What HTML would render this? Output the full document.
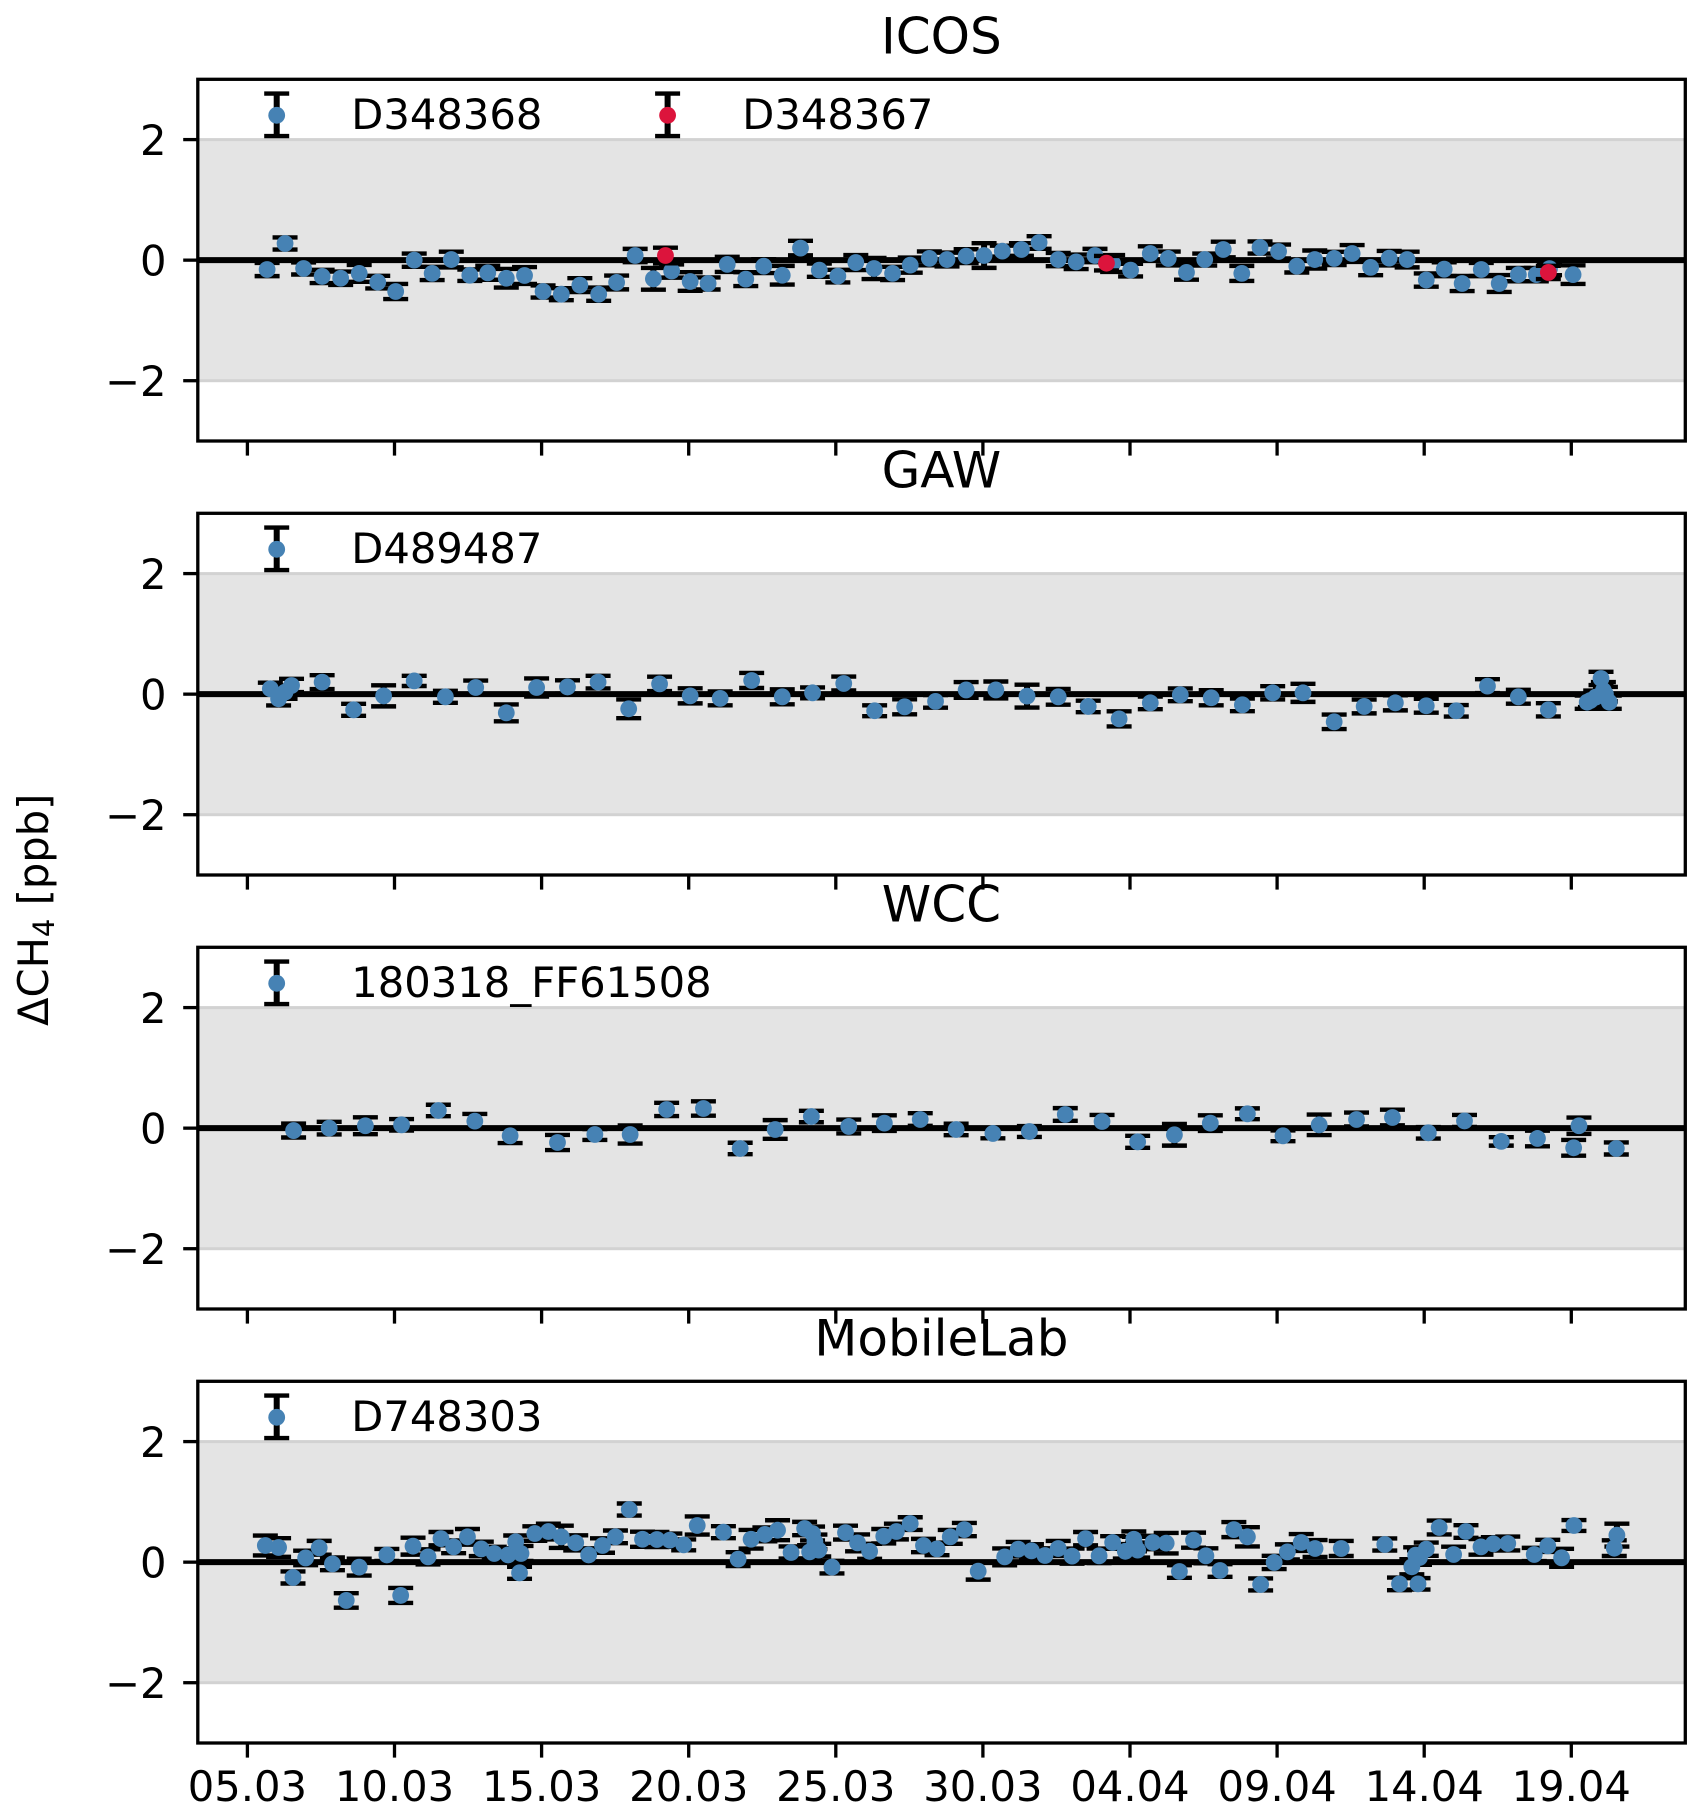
<!DOCTYPE html>
<html lang="en">
<head>
<meta charset="utf-8">
<title>Delta CH4 comparison</title>
<style>
html,body{margin:0;padding:0;background:#fff;}
svg{display:block;font-family:"DejaVu Sans","Liberation Sans",sans-serif;fill:#000;}
.tick-text{font-size:41.67px;}
.title-text{font-size:50px;text-anchor:middle;}
</style>
</head>
<body>
<svg id="chart" xmlns="http://www.w3.org/2000/svg" width="1705" height="1820" viewBox="0 0 1705 1820">
<rect x="0" y="0" width="1705" height="1820" fill="#ffffff"/>
<g id="plots"></g>
<text class="title-text" x="941.4" y="53.5">ICOS</text>
<text class="title-text" x="941.4" y="487.5">GAW</text>
<text class="title-text" x="941.4" y="921.5">WCC</text>
<text class="title-text" x="941.4" y="1355.5">MobileLab</text>
<text class="tick-text" transform="translate(48,1026) rotate(-90)">ΔCH<tspan font-size="29" dy="6">4</tspan><tspan dy="-6"> [ppb]</tspan></text>
<text class="tick-text" x="351.3" y="129">D348368</text>
<text class="tick-text" x="742.3" y="129">D348367</text>
<text class="tick-text" x="351.3" y="563">D489487</text>
<text class="tick-text" x="351.3" y="997">180318_FF61508</text>
<text class="tick-text" x="351.3" y="1431">D748303</text>
</svg>
<script>
/* Data: days since 05.03, offset in ppb, error in ppb */
const xTickDays = [0, 5, 10, 15, 20, 25, 30, 35, 40, 45];
const xTickLabels = ["05.03", "10.03", "15.03", "20.03", "25.03", "30.03", "04.04", "09.04", "14.04", "19.04"];
const yTickValues = [2, 0, -2];
const yTickLabels = ["2", "0", "\u22122"];
const toleranceBand = [-2, 2];

const icosDays = [0.67,1.28,1.91,2.54,3.17,3.80,4.43,5.04,5.67,6.28,6.93,7.56,8.17,8.80,9.42,10.05,10.67,11.30,11.94,12.55,13.18,13.80,14.42,15.05,15.66,16.31,16.94,17.55,18.18,18.80,19.44,20.07,20.68,21.30,21.93,22.53,23.18,23.78,24.43,25.04,25.66,26.31,26.91,27.56,28.17,28.81,29.41,30.02,30.69,31.30,31.92,32.54,33.17,33.80,34.42,35.05,35.67,36.28,36.94,37.55,38.18,38.81,39.42,40.07,40.68,41.29,41.94,42.55,43.20,43.81,44.26,45.06];
const icosValues = [-0.155,0.276,-0.138,-0.27,-0.30,-0.22,-0.365,-0.52,0,-0.22,0.01,-0.25,-0.21,-0.30,-0.255,-0.52,-0.565,-0.415,-0.565,-0.37,0.077,-0.31,-0.18,-0.354,-0.387,-0.07,-0.315,-0.10,-0.25,0.2,-0.166,-0.265,-0.04,-0.138,-0.22,-0.083,0.03,0.01,0.066,0.077,0.15,0.177,0.293,0.01,-0.028,0.077,-0.055,-0.166,0.11,0.028,-0.204,0.01,0.177,-0.22,0.21,0.144,-0.10,0.01,0.028,0.11,-0.12,0.033,0.01,-0.33,-0.15,-0.387,-0.155,-0.387,-0.24,-0.24,-0.14,-0.24];
const icosErrors = [0.11,0.10,0.10,0.11,0.11,0.14,0.105,0.125,0.11,0.11,0.13,0.095,0.115,0.155,0.14,0.10,0.10,0.115,0.11,0.115,0.11,0.18,0.11,0.155,0.10,0.125,0.115,0.115,0.155,0.12,0.11,0.105,0.125,0.175,0.11,0.125,0.115,0.115,0.115,0.205,0.09,0.105,0.105,0.11,0.12,0.11,0.14,0.105,0.12,0.115,0.12,0.10,0.13,0.125,0.10,0.115,0.105,0.15,0.11,0.14,0.13,0.12,0.13,0.11,0.115,0.125,0.11,0.14,0.11,0.11,0.11,0.155];
const icosRedDays = [14.21,29.20,44.22];
const icosRedValues = [0.077,-0.05,-0.204];
const icosRedErrors = [0.13,0.12,0.11];

const gawDays = [0.78,1.06,1.28,1.50,2.54,3.61,4.63,5.67,6.73,7.76,8.80,9.83,10.88,11.92,12.96,14.01,15.05,16.07,17.14,18.18,19.21,20.27,21.32,22.34,23.39,24.43,25.44,26.50,27.56,28.58,29.63,30.69,31.71,32.76,33.82,34.85,35.88,36.94,37.96,39.02,40.07,41.09,42.15,43.20,44.22,45.54,45.65,45.83,46.01,46.09,46.16,46.29];
const gawValues = [0.09,-0.077,0.033,0.144,0.2,-0.26,-0.028,0.22,-0.044,0.11,-0.31,0.11,0.12,0.2,-0.243,0.17,-0.028,-0.07,0.227,-0.044,0.022,0.177,-0.276,-0.21,-0.12,0.07,0.07,-0.033,-0.044,-0.204,-0.41,-0.144,-0.011,-0.06,-0.177,0.022,0.022,-0.459,-0.204,-0.144,-0.193,-0.276,0.133,-0.044,-0.26,-0.133,-0.105,-0.05,0.26,0.06,0,-0.133];
const gawErrors = [0.10,0.11,0.11,0.11,0.115,0.10,0.175,0.085,0.10,0.115,0.14,0.15,0.11,0.105,0.155,0.12,0.125,0.115,0.125,0.125,0.09,0.115,0.09,0.125,0.105,0.13,0.14,0.19,0.13,0.095,0.125,0.105,0.105,0.125,0.105,0.11,0.15,0.12,0.115,0.125,0.115,0.095,0.115,0.115,0.11,0.11,0.11,0.11,0.11,0.14,0.12,0.11];

const wccDays = [1.57,2.78,4.01,5.24,6.49,7.73,8.93,10.54,11.81,13.01,14.25,15.50,16.75,17.94,19.17,20.44,21.65,22.87,24.09,25.34,26.58,27.80,29.05,30.26,31.51,32.73,33.99,35.20,36.43,37.70,38.92,40.14,41.37,42.62,43.85,45.26,45.08,46.53];
const wccValues = [-0.04,0,0.04,0.055,0.293,0.116,-0.127,-0.238,-0.105,-0.105,0.31,0.326,-0.337,-0.022,0.193,0.028,0.083,0.144,-0.022,-0.088,-0.055,0.227,0.11,-0.227,-0.11,0.083,0.238,-0.127,0.055,0.144,0.177,-0.077,0.12,-0.22,-0.171,0.04,-0.326,-0.337];
const wccErrors = [0.115,0.105,0.14,0.095,0.095,0.12,0.12,0.125,0.09,0.15,0.11,0.12,0.095,0.155,0.095,0.115,0.13,0.105,0.095,0.08,0.09,0.105,0.11,0.10,0.18,0.13,0.09,0.09,0.17,0.115,0.13,0.095,0.10,0.07,0.13,0.135,0.13,0.10];

const mobileDays = [0.61,1.06,1.55,1.98,2.44,2.89,3.36,3.80,4.74,5.21,5.63,6.14,6.58,7.01,7.48,7.95,8.39,8.86,9.12,9.30,9.25,9.77,10.23,10.67,11.16,11.60,12.07,12.51,12.98,13.43,13.92,14.36,14.83,15.29,16.18,16.68,17.12,17.59,18.02,18.48,18.94,19.21,19.29,19.11,19.42,19.87,20.33,20.74,21.15,21.63,22.06,22.53,22.98,23.44,23.89,24.37,24.84,25.74,26.20,26.65,27.11,27.56,28.03,28.49,28.95,29.41,29.84,30.13,30.26,30.15,30.78,31.23,31.68,32.16,32.58,33.06,33.53,33.99,34.44,34.90,35.35,35.82,36.29,37.18,38.66,39.16,39.79,39.58,39.71,39.84,40.07,40.51,41.0,41.42,41.93,42.35,42.84,43.74,44.20,44.67,45.09,46.55,46.46];
const mobileValues = [0.276,0.243,-0.254,0.07,0.238,-0.028,-0.635,-0.083,0.12,-0.552,0.265,0.088,0.39,0.254,0.42,0.22,0.144,0.12,0.337,0.144,-0.177,0.475,0.508,0.42,0.32,0.12,0.276,0.42,0.873,0.38,0.376,0.365,0.287,0.608,0.497,0.05,0.38,0.46,0.53,0.16,0.558,0.475,0.337,0.171,0.2,-0.083,0.49,0.32,0.18,0.43,0.508,0.64,0.276,0.22,0.42,0.54,-0.15,0.088,0.215,0.188,0.11,0.227,0.1,0.39,0.105,0.326,0.18,0.38,0.2,0.3,0.326,0.315,-0.155,0.365,0.105,-0.138,0.54,0.42,-0.37,-0.005,0.17,0.326,0.227,0.227,0.293,-0.36,-0.36,-0.077,0.116,0.077,0.215,0.575,0.127,0.508,0.254,0.304,0.31,0.127,0.27,0.072,0.608,0.448,0.232];
const mobileErrors = [0.165,0.155,0.10,0.12,0.115,0.105,0.12,0.14,0.10,0.125,0.14,0.125,0.11,0.105,0.13,0.12,0.11,0.11,0.105,0.125,0.10,0.12,0.13,0.185,0.125,0.11,0.12,0.105,0.10,0.125,0.125,0.11,0.09,0.15,0.10,0.115,0.155,0.115,0.165,0.10,0.11,0.115,0.12,0.11,0.105,0.105,0.115,0.14,0.125,0.12,0.13,0.105,0.11,0.105,0.115,0.11,0.14,0.14,0.12,0.11,0.12,0.125,0.125,0.11,0.12,0.105,0.12,0.13,0.125,0.12,0.11,0.17,0.105,0.125,0.125,0.105,0.125,0.16,0.10,0.11,0.125,0.14,0.14,0.125,0.10,0.105,0.095,0.125,0.13,0.12,0.11,0.115,0.13,0.105,0.13,0.11,0.115,0.11,0.10,0.15,0.09,0.19,0.13];

const STEEL = "#4682b4";
const CRIMSON = "#dc143c";
const SVG_NS = "http://www.w3.org/2000/svg";
const plotsGroup = document.getElementById("plots");

const AXIS_LEFT = 197.8, AXIS_RIGHT = 1685.3, AXIS_HEIGHT = 361.7;
const X_ORIGIN = 247.4, X_PER_DAY = 29.42, Y_PER_UNIT = 60.28;

function xScale(day) { return X_ORIGIN + X_PER_DAY * day; }
function yScale(top, value) { return top + AXIS_HEIGHT / 2 - Y_PER_UNIT * value; }

function shape(parent, tag, props) {
  const node = document.createElementNS(SVG_NS, tag);
  for (const key in props) node.setAttribute(key, props[key]);
  parent.appendChild(node);
  return node;
}

function drawBar(group, x, yTop, yBottom, capWidth) {
  shape(group, "line", {x1: x, x2: x, y1: yTop, y2: yBottom, stroke: "#000", "stroke-width": 6});
  shape(group, "line", {x1: x - capWidth / 2, x2: x + capWidth / 2, y1: yTop, y2: yTop, stroke: "#000", "stroke-width": 4.4});
  shape(group, "line", {x1: x - capWidth / 2, x2: x + capWidth / 2, y1: yBottom, y2: yBottom, stroke: "#000", "stroke-width": 4.4});
}

function drawSeries(parent, top, prefix, days, values, errors, color) {
  const bars = shape(parent, "g", {});
  
  
  for (let i = 0; i < days.length; i++) {
    const cap = shape(bars, "g", {});
    
    
    drawBar(cap, xScale(days[i]), yScale(top, values[i] + errors[i]), yScale(top, values[i] - errors[i]), 25);
  }
  const dots = shape(parent, "g", {});
  
  
  for (let i = 0; i < days.length; i++) {
    const dot = shape(dots, "circle", {cx: xScale(days[i]), cy: yScale(top, values[i]), r: 8.4, fill: color});
    
    
  }
}

function drawLegendMarker(parent, top, x, prefix, color) {
  const group = shape(parent, "g", {});
  
  
  drawBar(group, x, top + 14.3, top + 56.8, 25);
  shape(group, "circle", {cx: x, cy: top + 36, r: 8.4, fill: color});
}

function drawPanel(index, top, name, seriesList, showLabels) {
  const panel = shape(plotsGroup, "g", {});
  
  

  const clipId = "clip-" + name;
  const defs = shape(panel, "defs", {});
  const clip = shape(defs, "clipPath", {id: clipId});
  shape(clip, "rect", {x: AXIS_LEFT, y: top, width: AXIS_RIGHT - AXIS_LEFT, height: AXIS_HEIGHT});

  const bandTop = yScale(top, toleranceBand[1]);
  const bandBottom = yScale(top, toleranceBand[0]);
  const band = shape(panel, "rect", {x: AXIS_LEFT - 4, y: bandTop, width: AXIS_RIGHT - AXIS_LEFT + 8, height: bandBottom - bandTop, fill: "#e4e4e4", stroke: "#d2d2d2", "stroke-width": 3, "clip-path": "url(#" + clipId + ")"});
  
  

  const zero = shape(panel, "line", {x1: AXIS_LEFT, x2: AXIS_RIGHT, y1: yScale(top, 0), y2: yScale(top, 0), stroke: "#000", "stroke-width": 6});
  
  

  seriesList.forEach(function (s) {
    drawSeries(panel, top, name + "-" + s.id, s.days, s.values, s.errors, s.color);
    drawLegendMarker(panel, top, s.legendX, name + "-" + s.id, s.color);
  });

  const frame = shape(panel, "rect", {x: AXIS_LEFT, y: top, width: AXIS_RIGHT - AXIS_LEFT, height: AXIS_HEIGHT, fill: "none", stroke: "#000", "stroke-width": 3.3});
  
  

  yTickValues.forEach(function (v, i) {
    const y = yScale(top, v);
    const tick = shape(panel, "line", {x1: AXIS_LEFT - 14.6, x2: AXIS_LEFT, y1: y, y2: y, stroke: "#000", "stroke-width": 3.3});
    
    
    const label = shape(panel, "text", {x: 166.5, y: y + 15.2, "text-anchor": "end", class: "tick-text"});
    
    
    label.textContent = yTickLabels[i];
  });

  xTickDays.forEach(function (d, i) {
    const x = xScale(d);
    const tick = shape(panel, "line", {x1: x, x2: x, y1: top + AXIS_HEIGHT, y2: top + AXIS_HEIGHT + 14.6, stroke: "#000", "stroke-width": 3.3});
    
    
    if (showLabels) {
      const label = shape(panel, "text", {x: x, y: 1801, "text-anchor": "middle", class: "tick-text"});
      
      
      label.textContent = xTickLabels[i];
    }
  });
}

drawPanel(0, 79.3, "icos", [
  {id: "d348368", days: icosDays, values: icosValues, errors: icosErrors, color: STEEL, legendX: 276.7},
  {id: "d348367", days: icosRedDays, values: icosRedValues, errors: icosRedErrors, color: CRIMSON, legendX: 667.6}
], false);
drawPanel(1, 513.3, "gaw", [
  {id: "d489487", days: gawDays, values: gawValues, errors: gawErrors, color: STEEL, legendX: 276.7}
], false);
drawPanel(2, 947.3, "wcc", [
  {id: "ff61508", days: wccDays, values: wccValues, errors: wccErrors, color: STEEL, legendX: 276.7}
], false);
drawPanel(3, 1381.3, "mobilelab", [
  {id: "d748303", days: mobileDays, values: mobileValues, errors: mobileErrors, color: STEEL, legendX: 276.7}
], true);
</script>
</body>
</html>
